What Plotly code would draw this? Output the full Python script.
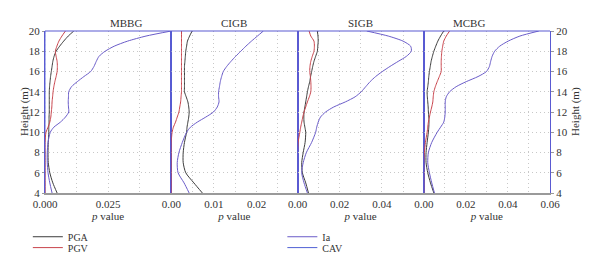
import plotly.graph_objects as go

# ---------------- data ----------------
panels = ["MBBG", "CIGB", "SIGB", "MCBG"]
heights = [20, 19.5, 19, 18.5, 18, 17.5, 17, 16.5, 16, 15.5, 15, 14.5, 14, 13.5, 13,
           12.5, 12, 11.5, 11, 10.5, 10, 9, 8, 7, 6, 5, 4]

ia_mbbg = [0.0500, 0.0400, 0.0327, 0.0274, 0.0238, 0.0214, 0.0203, 0.0194, 0.0181, 0.0154, 0.0128, 0.0105, 0.0094, 0.0093, 0.0092,
           0.0093, 0.0094, 0.0081, 0.0061, 0.0035, 0.0021, 0.0012, 0.0009, 0.0009, 0.0012, 0.0019, 0.0028]
pga_mbbg = [0.0114, 0.0092, 0.0074, 0.0058, 0.0044, 0.0036, 0.0031, 0.0028, 0.0025, 0.0022, 0.0020, 0.0018, 0.0017, 0.0017, 0.0017,
            0.0017, 0.0017, 0.0016, 0.0016, 0.0015, 0.0015, 0.0013, 0.0012, 0.0013, 0.0019, 0.0031, 0.0048]
pgv_mbbg = [0.0081, 0.0067, 0.0055, 0.0047, 0.0041, 0.0044, 0.0048, 0.0049, 0.0048, 0.0044, 0.0039, 0.0035, 0.0032, 0.0030, 0.0028,
            0.0027, 0.0025, 0.0023, 0.0019, 0.0012, 0.0004, 0.0000, 0.0000, 0.0000, 0.0000, 0.0000, 0.0000]

ia_cigb = [0.0216, 0.0202, 0.0188, 0.0175, 0.0163, 0.0151, 0.0140, 0.0130, 0.0122, 0.0118, 0.0115, 0.0113, 0.0111, 0.0111, 0.0112,
           0.0108, 0.0099, 0.0081, 0.0061, 0.0045, 0.0036, 0.0026, 0.0018, 0.0014, 0.0016, 0.0030, 0.0042]
pga_cigb = [0.0049, 0.0043, 0.0038, 0.0036, 0.0034, 0.0033, 0.0032, 0.0031, 0.0031, 0.0031, 0.0031, 0.0031, 0.0031, 0.0035, 0.0039,
            0.0041, 0.0042, 0.0041, 0.0039, 0.0037, 0.0036, 0.0031, 0.0028, 0.0028, 0.0034, 0.0053, 0.0073]
pgv_cigb = [0.0024, 0.0024, 0.0024, 0.0024, 0.0024, 0.0024, 0.0024, 0.0024, 0.0024, 0.0024, 0.0024, 0.0024, 0.0024, 0.0023, 0.0022,
            0.0020, 0.0018, 0.0014, 0.0010, 0.0005, 0.0002, 0.0000, 0.0000, 0.0000, 0.0000, 0.0000, 0.0000]

ia_sigb = [0.0328, 0.0430, 0.0500, 0.0536, 0.0539, 0.0516, 0.0477, 0.0438, 0.0402, 0.0370, 0.0344, 0.0323, 0.0302, 0.0273, 0.0227,
           0.0172, 0.0133, 0.0109, 0.0098, 0.0091, 0.0086, 0.0067, 0.0042, 0.0027, 0.0020, 0.0031, 0.0047]
pga_sigb = [0.0094, 0.0097, 0.0098, 0.0096, 0.0094, 0.0086, 0.0078, 0.0072, 0.0067, 0.0062, 0.0058, 0.0052, 0.0047, 0.0043, 0.0039,
            0.0035, 0.0031, 0.0030, 0.0031, 0.0035, 0.0039, 0.0036, 0.0027, 0.0020, 0.0023, 0.0039, 0.0052]
pgv_sigb = [0.0055, 0.0063, 0.0078, 0.0080, 0.0078, 0.0070, 0.0063, 0.0059, 0.0058, 0.0061, 0.0063, 0.0064, 0.0063, 0.0056, 0.0047,
            0.0039, 0.0031, 0.0025, 0.0020, 0.0015, 0.0011, 0.0003, 0.0000, 0.0000, 0.0000, 0.0000, 0.0000]

ia_mcbg = [0.0547, 0.0457, 0.0401, 0.0361, 0.0337, 0.0325, 0.0318, 0.0312, 0.0298, 0.0258, 0.0202, 0.0154, 0.0123, 0.0107, 0.0102,
           0.0102, 0.0102, 0.0100, 0.0095, 0.0080, 0.0064, 0.0038, 0.0022, 0.0019, 0.0027, 0.0038, 0.0051]
pga_mcbg = [0.0095, 0.0080, 0.0067, 0.0057, 0.0048, 0.0041, 0.0035, 0.0031, 0.0027, 0.0024, 0.0022, 0.0019, 0.0016, 0.0017, 0.0019,
            0.0021, 0.0022, 0.0024, 0.0025, 0.0024, 0.0022, 0.0016, 0.0011, 0.0011, 0.0019, 0.0032, 0.0048]
pgv_mcbg = [0.0123, 0.0107, 0.0095, 0.0090, 0.0086, 0.0084, 0.0083, 0.0083, 0.0083, 0.0074, 0.0064, 0.0055, 0.0048, 0.0045, 0.0043,
            0.0038, 0.0032, 0.0027, 0.0022, 0.0019, 0.0016, 0.0008, 0.0003, 0.0000, 0.0000, 0.0000, 0.0000]

cav_all = [0.0] * len(heights)

x_ranges = [[0, 0.05], [0, 0.0296], [0, 0.0598], [0, 0.06]]
x_tickvals = [[0, 0.025], [0, 0.01, 0.02], [0, 0.02, 0.04], [0, 0.02, 0.04, 0.06]]
x_ticktext = [["0.000", "0.025"], ["0.00", "0.01", "0.02"], ["0.00", "0.02", "0.04"], ["0.00", "0.02", "0.04", "0.06"]]
x_minor = [0.0125, 0.005, 0.01, 0.01]
y_ticks = [4, 6, 8, 10, 12, 14, 16, 18, 20]

series = {
    "PGA": [pga_mbbg, pga_cigb, pga_sigb, pga_mcbg],
    "PGV": [pgv_mbbg, pgv_cigb, pgv_sigb, pgv_mcbg],
    "Ia": [ia_mbbg, ia_cigb, ia_sigb, ia_mcbg],
    "CAV": [cav_all, cav_all, cav_all, cav_all],
}
colors = {"PGA": "#3c3c3c", "PGV": "#c8444c", "Ia": "#6a5cc8", "CAV": "#5060d4"}
legend_ids = {"PGA": "legend", "PGV": "legend2", "Ia": "legend3", "CAV": "legend4"}

FONT = "Liberation Serif, Times New Roman, serif"
fig = go.Figure()

for i in range(4):
    xa = "x" if i == 0 else f"x{i+1}"
    ya = "y" if i == 0 else f"y{i+1}"
    for name in ["CAV", "PGA", "PGV", "Ia"]:
        fig.add_trace(go.Scatter(
            x=series[name][i], y=heights, mode="lines",
            line=dict(color=colors[name], width=1.0, shape="spline", smoothing=0.7),
            name=name, showlegend=(i == 0), legend=legend_ids[name],
            xaxis=xa, yaxis=ya,
        ))

# page body has an 8px margin: shift the plot area so it lands at x 45..550, y 31..193
layout = dict(
    width=600, height=271,
    margin=dict(l=37, r=58, t=23, b=86, autoexpand=False),
    paper_bgcolor="white", plot_bgcolor="white",
    font=dict(family=FONT, size=11, color="#333333"),
)

GRIDC = "#c8c8c8"
GRIDDASH = "1px,3px"
grid_kw = dict(showgrid=True, gridcolor=GRIDC, griddash=GRIDDASH, gridwidth=1)
for i in range(4):
    key = "xaxis" if i == 0 else f"xaxis{i+1}"
    ykey = "yaxis" if i == 0 else f"yaxis{i+1}"
    xa_anchor = "y" if i == 0 else f"y{i+1}"
    ya_anchor = "x" if i == 0 else f"x{i+1}"
    layout[key] = dict(
        domain=[i * 0.25, (i + 1) * 0.25], anchor=xa_anchor,
        range=x_ranges[i], tickmode="array", tickvals=x_tickvals[i], ticktext=x_ticktext[i],
        showline=True, linecolor="#9a9a9a", linewidth=1.5, mirror=False,
        ticks="", zeroline=False, tickfont=dict(size=11, family=FONT),
        title=dict(text="<i>p</i> value", font=dict(size=11, family=FONT), standoff=0),
        minor=dict(dtick=x_minor[i], tick0=0, showgrid=True, gridcolor=GRIDC, griddash=GRIDDASH, ticks=""),
        **grid_kw,
    )
    ycfg = dict(
        anchor=ya_anchor, range=[4, 20], tickmode="array", tickvals=y_ticks,
        showline=True, linecolor="#5a5ad2", linewidth=1.2, mirror=True,
        zeroline=False, tickfont=dict(size=11, family=FONT),
        **grid_kw,
    )
    if i == 0:
        ycfg.update(showticklabels=True, ticks="outside", ticklen=2, tickcolor="#9a9a9a")
    elif i == 3:
        ycfg.update(side="right", showticklabels=True, ticks="outside", ticklen=3, tickcolor="#9a9a9a")
    else:
        ycfg.update(showticklabels=False, ticks="")
    layout[ykey] = ycfg

# legends: one entry each, positioned in two columns
leg_common = dict(bgcolor="rgba(0,0,0,0)", borderwidth=0, font=dict(size=10, family=FONT, color="#333333"),
                  xanchor="left", yanchor="middle", itemwidth=30)
legend_pos = {"legend": (-0.034, -0.270), "legend2": (-0.034, -0.337),
              "legend3": (0.470, -0.270), "legend4": (0.470, -0.337)}
for lk, (lx, ly) in legend_pos.items():
    layout[lk] = dict(x=lx, y=ly, **leg_common)

fig.update_layout(**layout)

# top border (blue), panel titles, y titles
fig.add_shape(type="line", xref="paper", yref="paper", x0=0, x1=1, y0=1, y1=1,
              line=dict(color="#5a5ad2", width=1.2))
for i, t in enumerate(panels):
    fig.add_annotation(text=t, xref="paper", yref="paper", x=i * 0.25 + 0.125, y=1.0,
                       yanchor="bottom", showarrow=False, yshift=0,
                       font=dict(size=11, family=FONT, color="#333333"))
fig.add_annotation(text="Height (m)", xref="paper", yref="paper", x=0, y=0.5, xshift=-21,
                   xanchor="center", yanchor="middle",
                   textangle=-90, showarrow=False, font=dict(size=11, family=FONT, color="#333333"))
fig.add_annotation(text="Height (m)", xref="paper", yref="paper", x=1, y=0.5, xshift=25,
                   xanchor="center", yanchor="middle",
                   textangle=-90, showarrow=False, font=dict(size=11, family=FONT, color="#333333"))

fig.write_html("out.html")
